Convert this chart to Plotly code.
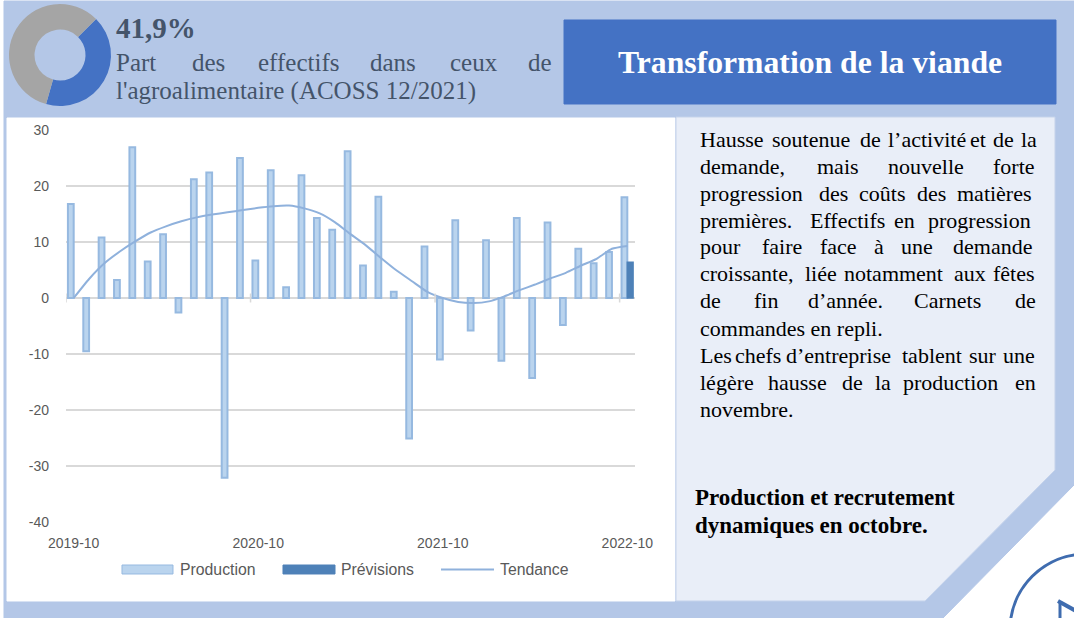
import plotly.graph_objects as go

months = [f"{y}-{m:02d}" for y, m in
          [(2019, 10), (2019, 11), (2019, 12)] + [(2020, i) for i in range(1, 13)] +
          [(2021, i) for i in range(1, 13)] + [(2022, i) for i in range(1, 11)]]
production = [16.8, -9.5, 10.8, 3.2, 26.9, 6.5, 11.4, -2.6, 21.2, 22.4, -32.1, 25.0, 6.7,
              22.8, 1.9, 21.9, 14.3, 12.2, 26.2, 5.8, 18.1, 1.1, -25.1, 9.2, -11.0, 13.9,
              -5.8, 10.3, -11.2, 14.3, -14.3, 13.5, -4.8, 8.8, 6.2, 8.2, 18.0]
previsions = [None] * 36 + [6.4]
tendance = [0.0, 3.4, 6.2, 8.3, 10.1, 11.7, 12.8, 13.7, 14.4, 14.9, 15.3, 15.7, 16.1, 16.4,
            16.5, 16.0, 15.1, 13.5, 11.4, 9.4, 7.1, 4.9, 3.0, 1.1, 0.0, -0.7, -0.9, -0.6,
            0.3, 1.4, 2.4, 3.5, 4.5, 5.8, 7.0, 8.8, 9.3]
x_ticks = ["2019-10", "2020-10", "2021-10", "2022-10"]
y_ticks = [-40, -30, -20, -10, 0, 10, 20, 30]
y_labels = ["-40", "-30", "-20", "-10", "0", "10", "20", "30"]
donut_labels = ["Agroalimentaire", "Autres"]
donut_values = [41.9, 58.1]

W, H = 1074, 618
BODY = "Liberation Serif"
SANS = "Liberation Sans"
BAND, PANEL, BLUE = "#B4C7E7", "#E9EEF8", "#4472C4"
BAR_FILL, BAR_LINE, PREV, TREND = "#BAD4EE", "#96B9E0", "#4E81B8", "#8FB1DC"

def X(x): return x / W
def Y(y): return 1 - y / H
def path(pts):
    return "M " + " L ".join(f"{X(a):.5f} {Y(b):.5f}" for a, b in pts) + " Z"
def poly(pts, fill, line=None):
    return dict(type="path", xref="paper", yref="paper", path=path(pts), fillcolor=fill,
                line=dict(color=line or fill, width=1), layer="below")
def rect(x0, y0, x1, y1, fill, line=None):
    return poly([(x0, y0), (x1, y0), (x1, y1), (x0, y1)], fill, line)
def text(s, x, y, size, color="#000000", font=BODY, bold=False, anchor="left"):
    return dict(text=f"<b>{s}</b>" if bold else s, x=X(x), y=Y(y), xref="paper", yref="paper",
                xanchor=anchor, yanchor="middle", showarrow=False, borderpad=0,
                font=dict(family=font, size=size, color=color))

shapes = [
    poly([(4, 1), (1074, 1), (1074, 485), (943, 618), (4, 618)], BAND),
    rect(564, 20, 1056, 104, BLUE),
    rect(7, 118, 675, 601, "#FFFFFF"),
    poly([(676, 117), (1055, 117), (1055, 470), (925, 601), (676, 601)], PANEL, "#C5D3EB"),
    dict(type="circle", xref="paper", yref="paper", x0=X(1010), x1=X(1162), y0=Y(554), y1=Y(706),
         line=dict(color="#3F6CAF", width=3)),
    dict(type="line", xref="paper", yref="paper", x0=X(1058), y0=Y(601), x1=X(1076), y1=Y(611),
         line=dict(color="#3F6CAF", width=4)),
    dict(type="line", xref="paper", yref="paper", x0=X(1060), y0=Y(603), x1=X(1060), y1=Y(620),
         line=dict(color="#3F6CAF", width=3)),
]
# marques d'axe sur la ligne zéro, entre deux catégories
for k in (0, 12, 24, 36):
    shapes.append(dict(type="line", xref="x", yref="y", x0=k - 0.5, x1=k - 0.5, y0=-0.8, y1=0.8,
                       line=dict(color="#D9D9D9", width=1.5)))
# légende
shapes += [
    rect(122, 565, 173, 574, BAR_FILL, BAR_LINE),
    rect(283, 565, 335, 574, PREV),
    dict(type="line", xref="paper", yref="paper", x0=X(441), x1=X(494), y0=Y(569.5), y1=Y(569.5),
         line=dict(color=TREND, width=2)),
]

HEAD = "#44546A"
annotations = [
    text("41,9%", 115, 28, 29, HEAD, bold=True),
    text("Transformation de la viande", 809.5, 63, 31.7, "#FFFFFF", bold=True, anchor="center"),
    text("Production", 179, 569, 15.8, "#595959", SANS),
    text("Prévisions", 340, 569, 15.8, "#595959", SANS),
    text("Tendance", 499, 569, 15.8, "#595959", SANS),
    text("Production et recrutement", 694, 497, 23, bold=True),
    text("dynamiques en octobre.", 694, 525, 23, bold=True),
]
# lignes justifiées : chaque mot placé à sa position lue
lines = [
    (63, 25, HEAD, [("Part", 115), ("des", 191), ("effectifs", 257), ("dans", 369), ("ceux", 449), ("de", 527)]),
    (91, 25, HEAD, [("l'agroalimentaire (ACOSS 12/2021)", 115)]),
    (139, 22, "#000", [("Hausse", 699), ("soutenue", 771), ("de", 859), ("l’activité", 887), ("et", 969), ("de", 992), ("la", 1020)]),
    (166, 22, "#000", [("demande,", 699), ("mais", 816), ("nouvelle", 887), ("forte", 992)]),
    (193, 22, "#000", [("progression", 699), ("des", 818), ("coûts", 858), ("des", 916), ("matières", 956)]),
    (220, 22, "#000", [("premières.", 699), ("Effectifs", 809), ("en", 893), ("progression", 927)]),
    (247, 22, "#000", [("pour", 699), ("faire", 761), ("face", 819), ("à", 873), ("une", 900), ("demande", 952)]),
    (274, 22, "#000", [("croissante,", 699), ("liée", 804), ("notamment", 843), ("aux", 953), ("fêtes", 992)]),
    (301, 22, "#000", [("de", 699), ("fin", 753), ("d’année.", 807), ("Carnets", 913), ("de", 1014)]),
    (328, 22, "#000", [("commandes en repli.", 699)]),
    (355, 22, "#000", [("Les", 699), ("chefs", 734), ("d’entreprise", 785), ("tablent", 901), ("sur", 968), ("une", 1002)]),
    (382, 22, "#000", [("légère", 699), ("hausse", 767), ("de", 841), ("la", 874), ("production", 902), ("en", 1014)]),
    (409, 22, "#000", [("novembre.", 699)]),
]
for y, size, color, words in lines:
    for w, x in words:
        annotations.append(text(w, x, y, size, color))

fig = go.Figure()
fig.add_trace(go.Pie(labels=donut_labels, values=donut_values, hole=0.5, rotation=45, sort=False,
                     direction="clockwise", textinfo="none", showlegend=False,
                     marker=dict(colors=[BLUE, "#A5A5A5"], line=dict(width=0)),
                     domain=dict(x=[X(9), X(111)], y=[Y(106), Y(4)])))
fig.add_trace(go.Bar(x=months, y=production, name="Production",
                     marker=dict(color=BAR_FILL, line=dict(color=BAR_LINE, width=2))))
fig.add_trace(go.Bar(x=months, y=previsions, name="Prévisions",
                     marker=dict(color=PREV, line=dict(color=PREV, width=1.5))))
fig.add_trace(go.Scatter(x=months, y=tendance, name="Tendance", mode="lines",
                         line=dict(color=TREND, width=2, shape="spline", smoothing=0.5)))

fig.update_layout(
    width=W, height=H, margin=dict(l=0, r=0, t=0, b=0, autoexpand=False), showlegend=False,
    paper_bgcolor="#FFFFFF", plot_bgcolor="rgba(0,0,0,0)",
    barmode="group", bargap=0.25, bargroupgap=0,
    shapes=shapes, annotations=annotations,
    xaxis=dict(domain=[X(66), X(635)], type="category", categoryorder="array", categoryarray=months,
               tickmode="array", tickvals=x_ticks, ticktext=x_ticks, range=[-0.5, 36.5],
               showgrid=False, zeroline=False, showline=False, ticks="", ticklabelstandoff=11,
               tickangle=0, tickfont=dict(family=SANS, size=14, color="#595959"), anchor="y"),
    yaxis=dict(domain=[Y(522), Y(130)], range=[-40, 30], tickmode="array", tickvals=y_ticks,
               ticktext=y_labels, gridcolor="#D9D9D9", gridwidth=1.5, zeroline=True,
               zerolinecolor="#D9D9D9", zerolinewidth=1.5, showline=False, ticks="",
               ticklabelstandoff=16, tickfont=dict(family=SANS, size=14, color="#595959"), anchor="x"),
)
fig.write_html("out.html", config=dict(displayModeBar=False),
               post_script="document.body.style.margin='0';document.body.style.overflow='hidden';")
